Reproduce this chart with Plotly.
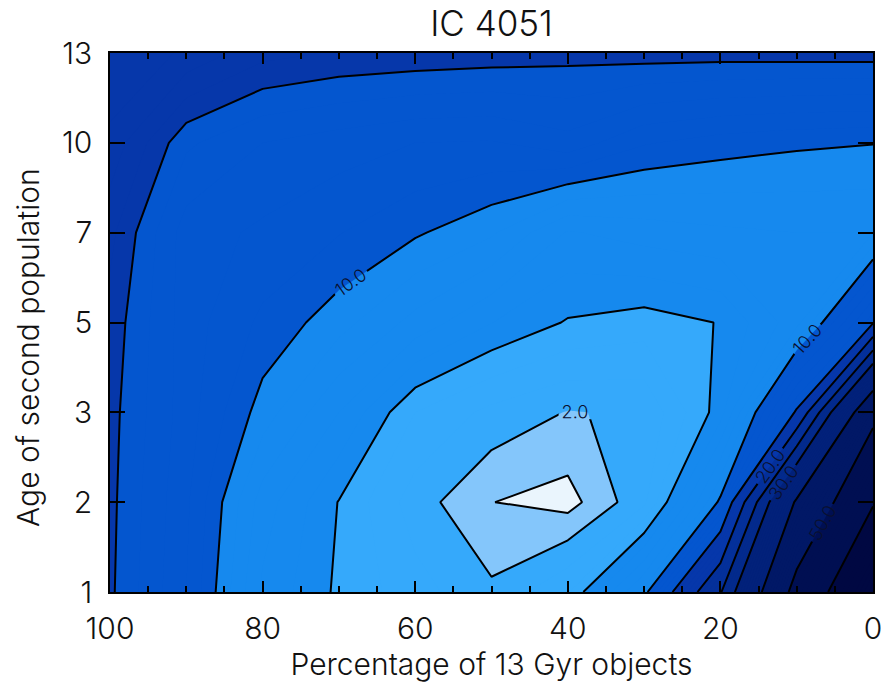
import numpy as np
import plotly.graph_objects as go

# ---- data -------------------------------------------------------------
title = "IC 4051"
x_title = "Percentage of 13 Gyr objects"
y_title = "Age of second population"

percent = [100, 90, 80, 70, 60, 50, 40, 30, 20, 10, 0]      # % of 13 Gyr objects
ages = [1, 2, 3, 5, 7, 10, 13]                             # age of second population (Gyr)

# chi-square surface: one list per age, one value per percentage column
chi2_age1 = [15.2, 12.0, 6.8, 4.78, 3.4, 2.2, 3.9, 9.3, 24.6, 53.0, 70.0]
chi2_age2 = [15.28, 12.2, 7.52, 4.95, 2.48, 1.02, 0.6, 2.75, 10.3, 41.0, 59.5]
chi2_age3 = [15.37, 12.5, 9.52, 7.0, 4.0, 2.71, 1.95, 2.14, 5.5, 15.3, 48.0]
chi2_age5 = [15.63, 12.5, 10.78, 9.41, 7.65, 6.03, 4.9, 4.5, 5.05, 7.62, 14.7]
chi2_age7 = [16.29, 12.5, 11.8, 11.05, 10.15, 9.15, 6.9, 7.44, 7.8, 8.0, 8.0]
chi2_age10 = [17.7, 14.2, 13.0, 12.5, 12.0, 11.9, 12.64, 11.1, 10.52, 10.2, 10.04]
chi2_age13 = [19.0, 17.8, 16.33, 15.9, 15.75, 15.6, 15.4, 15.53, 15.5, 15.53, 15.55]

levels = [1, 2, 5, 10, 15, 20, 25, 30, 40, 50, 60]
labelled_levels = [2, 10, 20, 30, 50]

# fill colour for each band: below 1, 1-2, 2-5, ..., above 60
band_colors = [
    "#eaf5fd", "#84c6fb", "#35a9fb", "#1689ee", "#0456cf", "#0637aa",
    "#04309a", "#032a8c", "#02217a", "#011866", "#000f52", "#000842",
]

# ---- build ------------------------------------------------------------
z = np.array([chi2_age1, chi2_age2, chi2_age3, chi2_age5,
              chi2_age7, chi2_age10, chi2_age13])
age_index = list(range(len(ages)))  # ages are spaced evenly on the axis

# Evenly stepped fill (step 1) with a stepped colour scale that only
# changes colour at the chosen, unevenly spaced levels.
lo = 1
hi = int(np.ceil(z.max()))
nc = hi - lo + 1
colorscale = [[0.0, band_colors[0]]]
for i, lev in enumerate(levels):
    f = (lev + 0.5 - lo) / nc
    colorscale.append([f, band_colors[i]])
    colorscale.append([f, band_colors[i + 1]])
colorscale.append([1.0, band_colors[-1]])

fig = go.Figure()
fig.add_trace(go.Contour(
    x=percent, y=age_index, z=z,
    contours=dict(start=lo, end=hi, size=1, coloring="fill", showlines=False),
    colorscale=colorscale, showscale=False, hoverinfo="skip",
    line=dict(width=0, smoothing=0), showlegend=False,
))

font_family = "Inter"

# one black line trace per level so the spacing can be uneven
for lev in levels:
    fig.add_trace(go.Contour(
        x=percent, y=age_index, z=z,
        contours=dict(start=lev, end=lev, size=1, coloring="none",
                      showlabels=lev in labelled_levels,
                      labelformat=".1f",
                      labelfont=dict(family=font_family, size=18, color="#0a1030",
                                     weight=300)),
        line=dict(color="black", width=2, smoothing=0),
        showscale=False, hoverinfo="skip", showlegend=False,
    ))

axis_common = dict(
    showline=True, linecolor="black", linewidth=1.5, mirror="ticks",
    ticks="inside", tickcolor="black", tickwidth=1.5,
    showgrid=False, zeroline=False, automargin=False,
    tickfont=dict(family=font_family, size=30, color="#111", weight=300),
)

fig.update_layout(
    width=883, height=687,
    margin=dict(l=110, r=10, t=53, b=95),
    paper_bgcolor="white", plot_bgcolor="white",
    showlegend=False,
    title=dict(text=title, x=0.5, xref="paper", xanchor="center",
               y=0.965, yanchor="middle",
               font=dict(family=font_family, size=35, color="#111", weight=300)),
    xaxis=dict(
        range=[100, 0], tickvals=[100, 80, 60, 40, 20, 0], ticklen=11,
        minor=dict(dtick=5, ticks="inside", ticklen=6, tickcolor="black", tickwidth=1.5),
        ticklabelstandoff=9,
        title=dict(text=x_title, standoff=4,
                   font=dict(family=font_family, size=30, color="#111", weight=300)),
        **axis_common,
    ),
    yaxis=dict(
        range=[0, 6], tickvals=age_index, ticktext=[str(a) for a in ages],
        ticklen=15, ticklabelstandoff=10,
        **axis_common,
    ),
    annotations=[dict(
        text=y_title, xref="paper", yref="paper", x=-0.1075, y=0.4546,
        xanchor="center", yanchor="middle", textangle=-90, showarrow=False,
        font=dict(family=font_family, size=30, color="#111", weight=300),
    )],
)

fig.write_html("out.html")
